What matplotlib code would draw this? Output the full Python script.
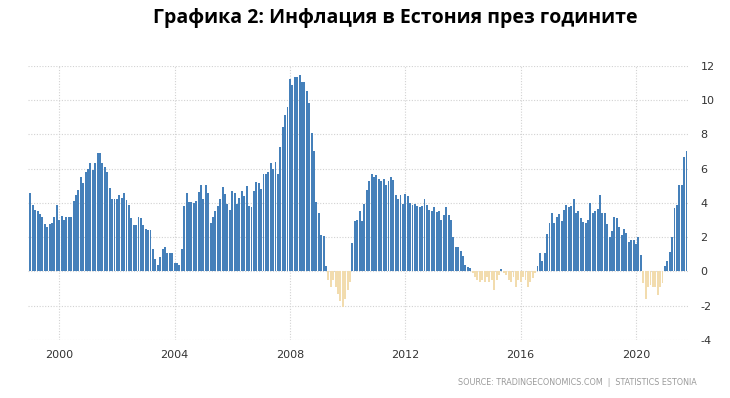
import matplotlib.pyplot as plt
import numpy as np

# monthly inflation, % y/y
infl_1999 = [4.6, 3.9, 3.6, 3.5, 3.35, 3.15, 2.75, 2.6, 2.75, 2.85, 3.2, 3.9]
infl_2000 = [3.0, 3.25, 3.0, 3.2, 3.15, 3.2, 4.1, 4.45, 4.75, 5.5, 5.15, 5.8]
infl_2001 = [6.0, 6.3, 5.9, 6.35, 6.9, 6.9, 6.3, 6.1, 5.8, 4.85, 4.2, 4.2]
infl_2002 = [4.2, 4.45, 4.3, 4.6, 4.15, 3.85, 3.1, 2.7, 2.7, 3.2, 3.1, 2.7]
infl_2003 = [2.5, 2.4, 2.4, 1.3, 0.75, 0.4, 0.85, 1.3, 1.4, 1.05, 1.05, 1.1]
infl_2004 = [0.5, 0.5, 0.4, 1.3, 3.8, 4.6, 4.05, 4.05, 4.0, 4.1, 4.65, 5.05]
infl_2005 = [4.25, 5.05, 4.55, 2.8, 3.2, 3.5, 3.8, 4.2, 4.95, 4.5, 3.95, 3.6]
infl_2006 = [4.7, 4.6, 3.95, 4.3, 4.7, 4.4, 5.0, 3.8, 3.75, 4.7, 5.2, 5.15]
infl_2007 = [4.8, 5.7, 5.7, 5.8, 6.35, 6.0, 6.4, 5.7, 7.25, 8.45, 9.15, 9.6]
infl_2008 = [11.25, 10.9, 11.35, 11.35, 11.45, 11.05, 11.05, 10.5, 9.8, 8.05, 7.05, 4.05]
infl_2009 = [3.4, 2.1, 2.05, 0.3, -0.5, -0.9, -0.5, -0.9, -1.3, -1.7, -2.05, -1.6]
infl_2010 = [-1.1, -0.6, 1.67, 2.95, 3.0, 3.55, 2.95, 3.95, 4.75, 5.25, 5.7, 5.5]
infl_2011 = [5.65, 5.4, 5.3, 5.4, 5.05, 5.25, 5.5, 5.35, 4.45, 4.2, 4.45, 3.95]
infl_2012 = [4.5, 4.4, 4.0, 3.85, 3.95, 3.8, 3.75, 3.8, 4.2, 3.9, 3.6, 3.55]
infl_2013 = [3.75, 3.45, 3.5, 3.0, 3.3, 3.75, 3.3, 3.0, 2.0, 1.4, 1.4, 1.2]
infl_2014 = [0.9, 0.35, 0.25, 0.2, -0.1, -0.3, -0.5, -0.6, -0.5, -0.6, -0.3, -0.6]
infl_2015 = [-0.5, -1.1, -0.5, -0.2, 0.15, -0.1, -0.2, -0.5, -0.6, -0.3, -0.9, -0.5]
infl_2016 = [-0.6, -0.3, -0.5, -0.9, -0.6, -0.4, -0.1, 0.3, 1.05, 0.6, 1.05, 2.2]
infl_2017 = [2.8, 3.4, 2.8, 3.2, 3.35, 2.95, 3.6, 3.85, 3.75, 3.8, 4.2, 3.4]
infl_2018 = [3.55, 3.1, 2.9, 2.8, 3.0, 4.0, 3.4, 3.55, 3.65, 4.45, 3.4, 3.4]
infl_2019 = [2.75, 2.0, 2.35, 3.2, 3.1, 2.6, 2.15, 2.45, 2.25, 1.7, 1.85, 1.85]
infl_2020 = [1.6, 2.0, 0.95, -0.7, -1.6, -0.9, -0.8, -0.9, -0.9, -1.4, -0.9, -0.7]
infl_2021 = [0.3, 0.6, 1.15, 2.0, 3.7, 3.85, 5.05, 5.05, 6.65, 7.05]

year_ticks = [2000, 2004, 2008, 2012, 2016, 2020]
y_ticks = [-4, -2, 0, 2, 4, 6, 8, 10, 12]

values = np.array(infl_1999 + infl_2000 + infl_2001 + infl_2002 + infl_2003
                  + infl_2004 + infl_2005 + infl_2006 + infl_2007 + infl_2008
                  + infl_2009 + infl_2010 + infl_2011 + infl_2012 + infl_2013
                  + infl_2014 + infl_2015 + infl_2016 + infl_2017 + infl_2018
                  + infl_2019 + infl_2020 + infl_2021)
dates = 1999 + np.arange(len(values)) / 12.0

pos_color = '#4580ba'
neg_color = '#f2dcae'
colors = [pos_color if v >= 0 else neg_color for v in values]

plt.rcParams['axes.unicode_minus'] = False

fig = plt.figure(figsize=(7.3, 3.98), dpi=100)
ax = fig.add_axes([0.0384, 0.1457, 0.906, 0.6893])

ax.bar(dates, values, width=0.8 / 12, color=colors, linewidth=0)

ax.set_xlim(1998.92, 2021.85)
ax.set_ylim(-4, 12)
ax.set_xticks(year_ticks)
ax.set_xticklabels([str(y) for y in year_ticks])
ax.set_yticks(y_ticks)
ax.yaxis.tick_right()
ax.tick_params(axis='both', length=0, labelsize=8, colors='#333333')
ax.tick_params(axis='y', pad=8)
ax.tick_params(axis='x', pad=7)

ax.grid(True, linestyle=(0, (1, 1.5)), color='#d2d2d2', linewidth=0.8)
ax.set_axisbelow(True)
for s in ax.spines.values():
    s.set_visible(False)

fig.text(0.542, 0.955, "Графика 2: Инфлация в Естония през годините",
         ha='center', va='center', fontsize=14, fontweight='bold',
         family='Open Sans', color='black')
fig.text(0.955, 0.04, "SOURCE: TRADINGECONOMICS.COM  |  STATISTICS ESTONIA",
         ha='right', va='center', fontsize=5.8, color='#9a9a9a')

fig.savefig('out.png', dpi=100)
